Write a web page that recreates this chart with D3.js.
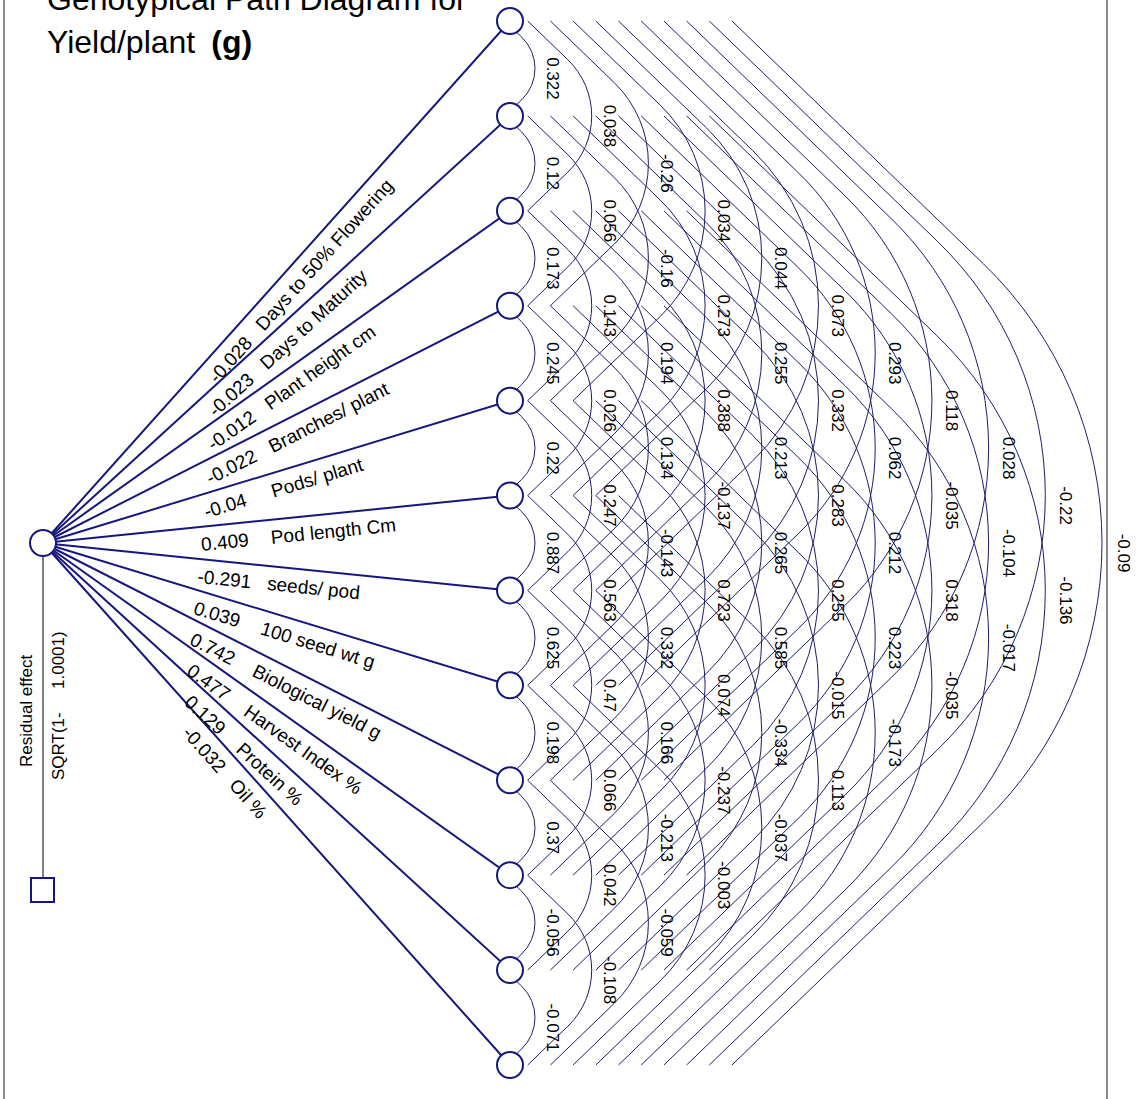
<!DOCTYPE html>
<html>
<head>
<meta charset="utf-8">
<script src="https://cdn.jsdelivr.net/npm/d3@7"></script>
<style>
  body { margin: 0; background: white; }
  svg { display: block; font-family: Arial, "Liberation Sans", sans-serif; }
</style>
</head>
<body>
<div id="chart"></div>
<script>
var width = 1144, height = 1099;

// traits, top to bottom
var traits = ["Days to 50% Flowering", "Days to Maturity", "Plant height cm", "Branches/ plant",
  "Pods/ plant", "Pod length Cm", "seeds/ pod", "100 seed wt g", "Biological yield g",
  "Harvest Index %", "Protein %", "Oil %"];

// direct effects on yield/plant
var direct = [-0.028, -0.023, -0.012, -0.022, -0.04, 0.409, -0.291, 0.039, 0.742, 0.477, 0.129, -0.032];

// genotypic correlations (upper triangle): row i = trait i with traits i+1 .. 12
var corr = [
  [0.322, 0.038, -0.26, 0.034, 0.044, 0.073, 0.293, 0.118, 0.028, -0.22, -0.09],
  [0.12, 0.056, -0.16, 0.273, 0.255, 0.332, 0.062, -0.035, -0.104, -0.136],
  [0.173, 0.143, 0.194, 0.388, 0.213, 0.283, 0.212, 0.318, -0.017],
  [0.245, 0.026, 0.134, -0.137, 0.265, 0.255, 0.223, -0.035],
  [0.22, 0.247, -0.143, 0.723, 0.585, -0.015, -0.173],
  [0.887, 0.563, 0.332, 0.074, -0.334, 0.113],
  [0.625, 0.47, 0.166, -0.237, -0.037],
  [0.198, 0.066, -0.213, -0.003],
  [0.37, 0.042, -0.059],
  [-0.056, -0.108],
  [-0.071]
];

var residual = "1.0001";
var titleLines = ["Genotypical Path Diagram for", "Yield/plant"];

var navy = "#16167e";

var svg = d3.select("#chart")
  .append("svg")
  .attr("width", width)
  .attr("height", height)
  .style("background", "white");

// frame sides
[4, 1107].forEach(function (x) {
  svg.append("line")
    .attr("x1", x).attr("x2", x).attr("y1", 0).attr("y2", height)
    .attr("stroke", "#8c8c8c").attr("stroke-width", 2);
});

// node positions
var yNode = d3.scaleLinear().domain([0, traits.length - 1]).range([21, 1065]);
var nodeX = 510;
var src = { x: 43, y: 543 };

// arc geometry by span (j - i)
var xStart = d3.scaleLinear().domain([1, 11]).range([505, 732]);
var xApex = d3.scaleLinear().domain([1, 11]).range([535, 1102]);
var xLabel = d3.scaleLinear().domain([1, 11]).range([552, 1123]);
var alpha = 44 * Math.PI / 180;

function arcPath(i, j) {
  var k = j - i, x0 = xStart(k), y1 = yNode(i), y2 = yNode(j);
  var h = (y2 - y1) / 2, ym = (y1 + y2) / 2, D = xApex(k) - x0;
  var s = Math.sin(alpha), c = Math.cos(alpha);
  var R = (h * c - D * s) / (1 - s);
  var cx = xApex(k) - R;
  var p = d3.path();
  p.moveTo(x0, y1);
  p.lineTo(cx + R * s, ym - R * c);
  p.arc(cx, ym, R, alpha - Math.PI / 2, Math.PI / 2 - alpha, false);
  p.lineTo(x0, y2);
  return p.toString();
}

// flatten correlation table into pairs
var pairs = [];
corr.forEach(function (row, i) {
  row.forEach(function (v, m) {
    pairs.push({ i: i, j: i + m + 1, value: v });
  });
});

// correlation arcs
svg.append("g")
  .selectAll("path")
  .data(pairs)
  .join("path")
  .attr("d", function (d) { return arcPath(d.i, d.j); })
  .attr("fill", "none")
  .attr("stroke", "#1e1e6a")
  .attr("stroke-width", 1);

// correlation labels
svg.append("g")
  .selectAll("text")
  .data(pairs)
  .join("text")
  .attr("transform", function (d) {
    var ym = (yNode(d.i) + yNode(d.j)) / 2 + 10;
    return "translate(" + xLabel(d.j - d.i) + "," + ym + ") rotate(90)";
  })
  .attr("text-anchor", "middle")
  .attr("dominant-baseline", "central")
  .style("font-size", "17px")
  .attr("fill", "black")
  .text(function (d) { return String(d.value); });

// direct paths
svg.append("g")
  .selectAll("line")
  .data(traits)
  .join("line")
  .attr("x1", src.x).attr("y1", src.y)
  .attr("x2", nodeX)
  .attr("y2", function (d, i) { return yNode(i); })
  .attr("stroke", navy)
  .attr("stroke-width", 2);

// direct path labels
var lab = svg.append("g")
  .selectAll("text")
  .data(traits)
  .join("text")
  .attr("transform", function (d, i) {
    var dx = nodeX - src.x, dy = yNode(i) - src.y;
    var ang = Math.atan2(dy, dx) * 180 / Math.PI;
    var px = src.x + 0.335 * dx, py = src.y + 0.335 * dy;
    return "translate(" + px + "," + py + ") rotate(" + ang + ")";
  })
  .attr("y", 24)
  .style("font-size", "19px")
  .attr("fill", "black");
lab.append("tspan").attr("x", 0).text(function (d, i) { return String(direct[i]); });
lab.append("tspan").attr("x", 70).text(function (d) { return d; });

// residual effect
svg.append("line")
  .attr("x1", src.x).attr("x2", src.x)
  .attr("y1", src.y + 13).attr("y2", 878)
  .attr("stroke", "black").attr("stroke-width", 1);
svg.append("rect")
  .attr("x", 31).attr("y", 878).attr("width", 23).attr("height", 24)
  .attr("fill", "white").attr("stroke", navy).attr("stroke-width", 2);
svg.append("text")
  .attr("transform", "translate(32,767) rotate(-90)")
  .style("font-size", "17px")
  .text("Residual effect");
svg.append("text")
  .attr("transform", "translate(64,780) rotate(-90)")
  .style("font-size", "17px")
  .text("SQRT(1-");
svg.append("text")
  .attr("transform", "translate(64,689) rotate(-90)")
  .style("font-size", "17px")
  .text(residual + ")");

// node circles
svg.append("g")
  .selectAll("circle")
  .data(traits)
  .join("circle")
  .attr("cx", nodeX)
  .attr("cy", function (d, i) { return yNode(i); })
  .attr("r", 13)
  .attr("fill", "white")
  .attr("stroke", navy)
  .attr("stroke-width", 2);

svg.append("circle")
  .attr("cx", src.x).attr("cy", src.y).attr("r", 13)
  .attr("fill", "white").attr("stroke", navy).attr("stroke-width", 2);

// title
svg.append("text")
  .attr("x", 47).attr("y", 10)
  .style("font-size", "32px")
  .text(titleLines[0]);
var t2 = svg.append("text")
  .attr("x", 47).attr("y", 53)
  .style("font-size", "32px")
  .text(titleLines[1]);
t2.append("tspan").attr("dx", 16).style("font-weight", "bold").text("(g)");
</script>
</body>
</html>
